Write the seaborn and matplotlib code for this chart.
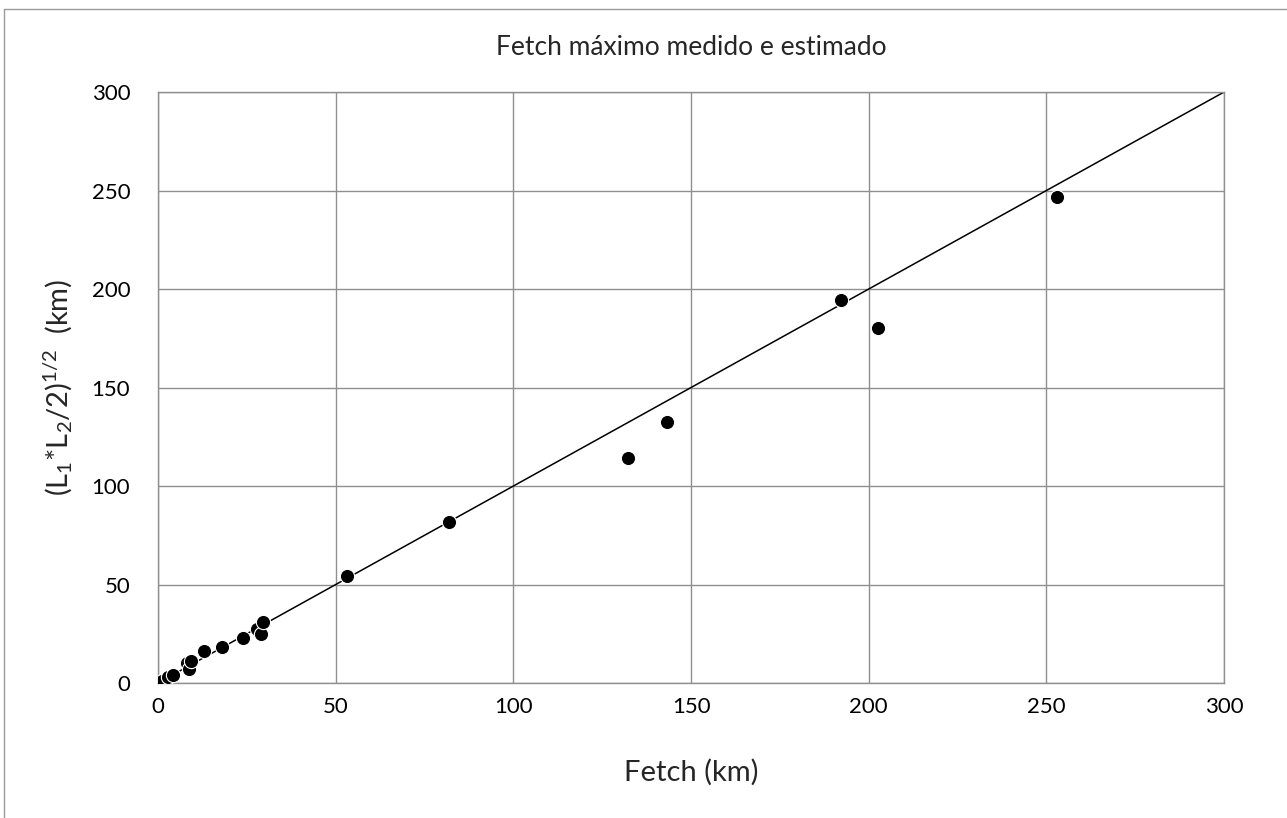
import matplotlib
matplotlib.use("Agg")
import matplotlib.pyplot as plt
from matplotlib.lines import Line2D
import seaborn as sns

# measured fetch vs estimated sqrt(L1*L2/2), km
fetch = [1.0, 2.8, 4.1, 8.2, 8.8, 9.2, 12.9, 17.9, 24.0, 27.9, 28.9, 29.6,
         53.1, 82.0, 132.2, 143.3, 192.2, 202.5, 253.1]
estimado = [1.2, 3.0, 4.1, 10.0, 7.0, 11.3, 16.4, 18.1, 22.7, 27.3, 24.9, 31.1,
            54.3, 81.8, 114.1, 132.7, 194.6, 180.1, 246.7]

# 1:1 reference line
line_x = [0, 300]
line_y = [0, 300]

ticks = [0, 50, 100, 150, 200, 250, 300]

sns.set_theme(style='white')
plt.rcParams['font.family'] = ['Lato', 'DejaVu Sans']
plt.rcParams['mathtext.fontset'] = 'custom'
plt.rcParams['mathtext.rm'] = 'Lato'
plt.rcParams['mathtext.it'] = 'Lato'

fig = plt.figure(figsize=(12.87, 8.18), dpi=100)
ax = fig.add_axes([0.1228, 0.165, 0.8283, 0.7225])

sns.lineplot(x=line_x, y=line_y, color='black', linewidth=1.1, ax=ax, zorder=2)
sns.scatterplot(x=fetch, y=estimado, color='black', s=105, edgecolor='white',
                linewidth=0.8, ax=ax, zorder=3)

ax.set_xlim(0, 300)
ax.set_ylim(0, 300)
ax.set_xticks(ticks)
ax.set_yticks(ticks)
ax.grid(True, color='#8f8f8f', linewidth=1.0)
ax.set_axisbelow(True)
for s in ax.spines.values():
    s.set_color('#8f8f8f')
    s.set_linewidth(1.0)
ax.tick_params(axis='both', length=0, labelsize=16, colors='black')
ax.tick_params(axis='y', pad=20)
ax.tick_params(axis='x', pad=10)

ax.set_title('Fetch máximo medido e estimado', fontsize=19, pad=27)
ax.set_xlabel('Fetch (km)', fontsize=21, labelpad=30)
ax.set_ylabel(r'$\mathregular{(L_1{*}L_2/2)^{1/2}}$  (km)', fontsize=21, labelpad=12)

# chart area frame (top and left edges visible)
fig.add_artist(Line2D([4 / 1287, 1.0], [1 - 9 / 818, 1 - 9 / 818],
                      transform=fig.transFigure, color='#9a9a9a', linewidth=1))
fig.add_artist(Line2D([4 / 1287, 4 / 1287], [0.0, 1 - 9 / 818],
                      transform=fig.transFigure, color='#9a9a9a', linewidth=1))

fig.savefig('out.png', dpi=100)
